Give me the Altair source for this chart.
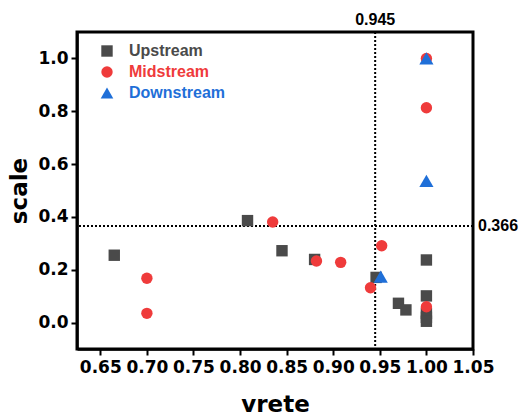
import altair as alt
import pandas as pd

# Upstream
up_x = [0.665, 0.808, 0.845, 0.880, 0.946, 0.970, 0.978, 1.0, 1.0, 1.0, 1.0, 1.0]
up_y = [0.255, 0.386, 0.272, 0.239, 0.171, 0.073, 0.048, 0.237, 0.101, 0.035, 0.020, 0.005]
# Midstream
mid_x = [0.700, 0.700, 0.835, 0.882, 0.908, 0.940, 0.952, 1.0, 1.0, 1.0]
mid_y = [0.168, 0.035, 0.381, 0.233, 0.228, 0.132, 0.291, 0.060, 0.813, 1.0]
# Downstream
down_x = [0.951, 1.0, 1.0]
down_y = [0.174, 0.536, 1.0]

series = ["Upstream", "Midstream", "Downstream"]
colors = ["#4a4a4a", "#ef3b3b", "#1f6fd8"]
shapes = ["square", "circle", "triangle-up"]
sizes = [130, 130, 200]

ref_x = 0.945
ref_y = 0.366

FONT = "Liberation Sans"
AXFONT = "DejaVu Sans"

x_vals = [round(0.65 + 0.025 * i, 3) for i in range(17)]
y_vals = [round(0.1 * i, 1) for i in range(11)]

xscale = alt.Scale(domain=[0.625, 1.05], nice=False, zero=False)
yscale = alt.Scale(domain=[-0.1, 1.1], nice=False, zero=False)

xaxis = alt.Axis(
    values=x_vals,
    labelExpr="round(datum.value*40) % 2 == 0 ? format(datum.value, '.2f') : ''",
    tickSize={"condition": {"test": "round(datum.value*40) % 2 == 0", "value": 6}, "value": 3},
    grid=False, labelFontSize=17, labelFont=AXFONT, labelFontWeight="bold",
    labelColor="black", titleFontSize=23, titleFont=AXFONT, titleFontWeight="bold",
    titleColor="black", titlePadding=18, domainColor="black", domainWidth=2.5,
    tickColor="black", tickWidth=2, labelPadding=4, labelFlush=False, labelOverlap=False,
)
yaxis = alt.Axis(
    values=y_vals,
    labelExpr="round(datum.value*10) % 2 == 0 ? format(datum.value, '.1f') : ''",
    tickSize={"condition": {"test": "round(datum.value*10) % 2 == 0", "value": 6}, "value": 3},
    grid=False, labelFontSize=17, labelFont=AXFONT, labelFontWeight="bold",
    labelColor="black", titleFontSize=23, titleFont=AXFONT, titleFontWeight="bold",
    titleColor="black", titlePadding=6, domainColor="black", domainWidth=2.5,
    tickColor="black", tickWidth=2, labelPadding=3, labelFlush=False, labelOverlap=False,
)

layers = []
vline = alt.Chart(pd.DataFrame({"v": [ref_x]})).mark_rule(
    color="black", strokeWidth=2, strokeDash=[2, 2]).encode(x=alt.X("v:Q", scale=xscale, axis=xaxis, title="vrete"))
hline = alt.Chart(pd.DataFrame({"v": [ref_y]})).mark_rule(
    color="black", strokeWidth=2, strokeDash=[2, 2]).encode(y=alt.Y("v:Q", scale=yscale, axis=yaxis, title="scale"))
layers += [vline, hline]

for i, (name, xs, ys) in enumerate([("Upstream", up_x, up_y), ("Midstream", mid_x, mid_y), ("Downstream", down_x, down_y)]):
    d = pd.DataFrame({"vrete": xs, "scale": ys, "series": [name] * len(xs)})
    layer = alt.Chart(d).mark_point(filled=True, opacity=1, size=sizes[i], shape=shapes[i]).encode(
        x=alt.X("vrete:Q", scale=xscale, axis=xaxis, title="vrete"),
        y=alt.Y("scale:Q", scale=yscale, axis=yaxis, title="scale"),
        color=alt.Color("series:N", scale=alt.Scale(domain=[name], range=[colors[i]]),
                        legend=alt.Legend(
                            title=None, orient="none", legendX=22, legendY=11 + 21 * i,
                            labelFont=FONT, labelFontSize=16, labelFontWeight="bold",
                            labelColor=colors[i], symbolType=shapes[i],
                            symbolSize=min(sizes[i], 160), labelOffset=14,
                        )),
    )
    layers.append(layer)

vlabel = alt.Chart(pd.DataFrame({"v": [ref_x], "t": [f"{ref_x:.3f}"]})).mark_text(
    font=FONT, fontSize=16, fontWeight="bold", color="black", baseline="bottom", dy=-4
).encode(x=alt.X("v:Q", scale=xscale), y=alt.value(0), text="t:N")
hlabel = alt.Chart(pd.DataFrame({"v": [ref_y], "t": [f"{ref_y:.3f}"]})).mark_text(
    font=FONT, fontSize=16, fontWeight="bold", color="black", align="left", baseline="middle", dx=5
).encode(x=alt.value(396), y=alt.Y("v:Q", scale=yscale), text="t:N")
layers += [vlabel, hlabel]

chart = alt.layer(*layers).resolve_scale(color="independent").properties(
    width=396, height=317,
    background="white",
    autosize=alt.AutoSizeParams(type="none"),
    padding={"left": 77, "top": 32, "right": 46, "bottom": 71},
).configure_view(stroke="black", strokeWidth=3)

chart.save("out.html", embed_options={"renderer": "svg", "actions": False})
